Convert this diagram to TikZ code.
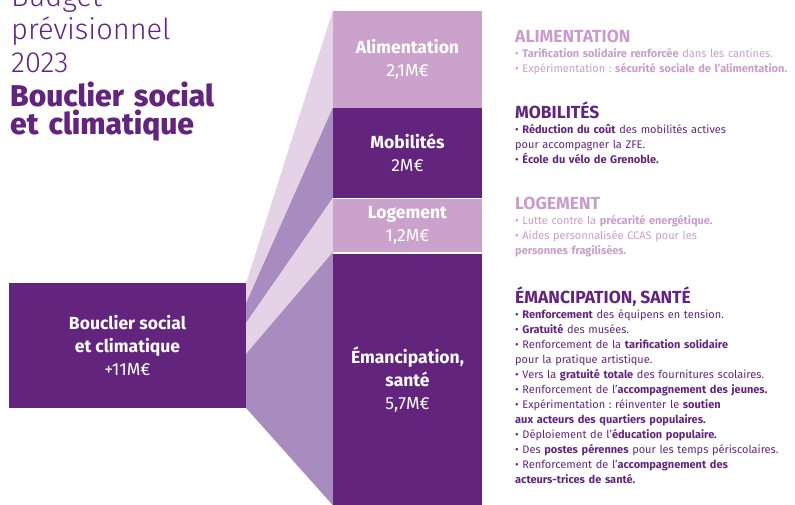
\documentclass[tikz,border=0pt]{standalone}
\usepackage{fontspec}
\setmainfont{Fira Sans}
\newfontfamily\lightfont{Fira Sans}[UprightFont={* Light}]
\newfontfamily\grasfont{Fira Sans}[UprightFont={* ExtraBold}]
\usetikzlibrary{calc}
\definecolor{violetfonce}{RGB}{99,36,126}
\definecolor{mauve}{RGB}{203,162,203}
\definecolor{mauvetexte}{RGB}{201,156,204}
\definecolor{mauveclair}{RGB}{228,211,231}
\definecolor{mauvemoyen}{RGB}{169,140,191}
\tikzset{
  bloc/.style={inner sep=0, text=white, align=center,
    font=\fontsize{17.5}{23}\selectfont},
  liste/.style={anchor=base west, inner sep=0, align=left, text width=280pt,
    font=\fontsize{11}{15}\selectfont},
  entete/.style={anchor=base west, inner sep=0, align=left, text width=240pt,
    text=violetfonce}
}
\newcommand{\rubrique}[1]{{\fontsize{17.5}{17.5}\selectfont\bfseries #1}}
\frenchspacing

\begin{document}
\begin{tikzpicture}[x=1pt,y=-1pt]
\useasboundingbox (0,0) rectangle (795,505);
% titre
\node[entete, font=\lightfont\fontsize{29}{33}\selectfont] (budget) at (11,7) {Budget\\prévisionnel\\2023};
\node[entete, font=\grasfont\fontsize{30}{27.5}\selectfont] (titre) at (10,107) {Bouclier social\\et climatique};
% blocs
\node[bloc, fill=violetfonce, minimum width=237pt, minimum height=125pt] (bouclier) at (127.5,345.5)
  {\textbf{Bouclier social}\\\textbf{et climatique}\\+11M€};
\node[bloc, fill=mauve, minimum width=149pt, minimum height=97pt] (alim) at (407.5,59.5)
  {\textbf{Alimentation}\\2,1M€};
\node[bloc, fill=violetfonce, minimum width=149pt, minimum height=90pt] (mob) at (407.5,153)
  {\textbf{Mobilités}\\2M€};
\node[bloc, fill=mauve, minimum width=149pt, minimum height=52.5pt] (log) at (407.5,225.75)
  {\textbf{Logement}\\1,2M€};
\node[bloc, fill=violetfonce, minimum width=149pt, minimum height=251.5pt] (eman) at (407.5,379.25)
  {\textbf{Émancipation,}\\\textbf{santé}\\5,7M€};
% eventail
\coordinate (ba) at ($(bouclier.north east)+(0,20)$);
\coordinate (bb) at ($(bouclier.north east)+(0,40)$);
\coordinate (bc) at ($(bouclier.north east)+(0,71)$);
\fill[mauveclair] (bouclier.north east) -- (alim.north west) -- (alim.south west) -- (ba) -- cycle;
\fill[mauvemoyen] (ba) -- (mob.north west) -- (mob.south west) -- (bb) -- cycle;
\fill[mauveclair] (bb) -- (mob.south west) -- (log.south west) -- (bc) -- cycle;
\fill[mauvemoyen] (bc) -- (log.south west) -- (eman.south west) -- (bouclier.south east) -- cycle;
% textes
\node[liste, text=mauvetexte] (alimtxt) at (515,43) {\rubrique{ALIMENTATION}\\
• \textbf{Tarification solidaire renforcée} dans les cantines.\\
• Expérimentation : \textbf{sécurité sociale de l’alimentation.}};
\node[liste, text=violetfonce] (mobtxt) at (515,119) {\rubrique{MOBILITÉS}\\
• \textbf{Réduction du coût} des mobilités actives\\
pour accompagner la ZFE.\\
• \textbf{École du vélo de Grenoble.}};
\node[liste, text=mauvetexte] (logtxt) at (515,210) {\rubrique{LOGEMENT}\\
• Lutte contre la \textbf{précarité energétique.}\\
• Aides personnalisée CCAS pour les\\
\textbf{personnes fragilisées.}};
\node[liste, text=violetfonce] (emantxt) at (515,303) {\rubrique{ÉMANCIPATION, SANTÉ}\\
• \textbf{Renforcement} des équipens en tension.\\
• \textbf{Gratuité} des musées.\\
• Renforcement de la \textbf{tarification solidaire}\\
pour la pratique artistique.\\
• Vers la \textbf{gratuité totale} des fournitures scolaires.\\
• Renforcement de l’\textbf{accompagnement des jeunes.}\\
• Expérimentation : réinventer le \textbf{soutien}\\
\textbf{aux acteurs des quartiers populaires.}\\
• Déploiement de l’\textbf{éducation populaire.}\\
• Des \textbf{postes pérennes} pour les temps périscolaires.\\
• Renforcement de l’\textbf{accompagnement des}\\
\textbf{acteurs-trices de santé.}};
\end{tikzpicture}
\end{document}
